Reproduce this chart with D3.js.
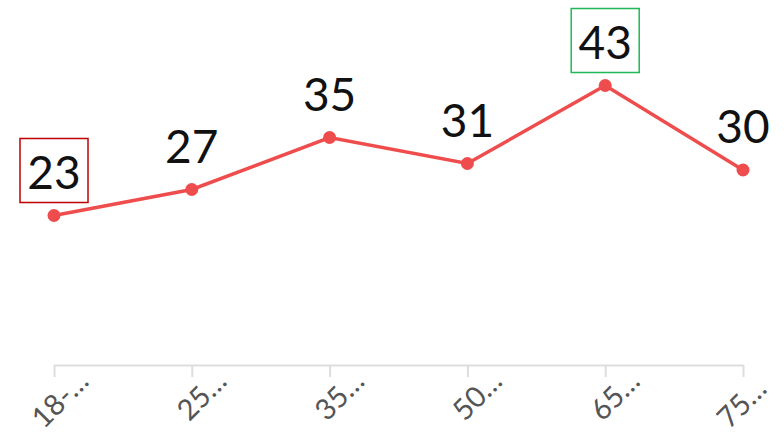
<!DOCTYPE html>
<html><head><meta charset="utf-8">
<script src="https://cdn.jsdelivr.net/npm/d3@7"></script>
<style>body{margin:0;background:#fff}svg{display:block}</style>
</head><body>
<svg id="c" width="784" height="433"></svg>
<script>
const categories = ["18-…", "25…", "35…", "50…", "65…", "75…"];
const values = [23, 27, 35, 31, 43, 30];
const minIndex = values.indexOf(d3.min(values));
const maxIndex = values.indexOf(d3.max(values));

const svg = d3.select("#c");
const font = "Lato, 'Open Sans', sans-serif";
const x = d3.scalePoint().domain(categories).range([54, 743]);
const y = d3.scaleLinear().domain([0, 50]).range([365, 40]);

const ax = svg.append("g").attr("transform", "translate(0,365)")
  .call(d3.axisBottom(x).tickSize(12).tickSizeOuter(0));
ax.select(".domain").attr("stroke", "#ddd").attr("stroke-width", 2);
ax.selectAll(".tick line").attr("stroke", "#ddd").attr("stroke-width", 2);
ax.selectAll(".tick text")
  .attr("font-family", font).attr("font-size", 29).attr("font-weight", 400).attr("fill", "#555")
  .attr("text-anchor", "end").attr("dy", 0).attr("y", 0)
  .attr("transform", d => {
    const shift = Math.max(0, x(d) + 36 - 768);
    return `translate(${36 - shift},${18 + shift * 0.7}) rotate(-45)`;
  });

const data = categories.map((c, i) => ({c, v: values[i], i}));
svg.append("path").datum(data)
  .attr("fill", "none").attr("stroke", "#ef4d4d").attr("stroke-width", 3.5)
  .attr("d", d3.line().x(d => x(d.c)).y(d => y(d.v)));
svg.selectAll("circle.p").data(data).join("circle")
  .attr("cx", d => x(d.c)).attr("cy", d => y(d.v)).attr("r", 6.5).attr("fill", "#ef4d4d");

const lab = svg.selectAll("g.lab").data(data).join("g")
  .attr("transform", d => `translate(${x(d.c)},${y(d.v)})`);
lab.filter(d => d.i === minIndex || d.i === maxIndex).append("rect")
  .attr("x", -34).attr("y", -77).attr("width", 68).attr("height", 64)
  .attr("fill", "none").attr("stroke-width", 1.5)
  .attr("stroke", d => d.i === maxIndex ? "#1db954" : "#c00000");
lab.append("text").attr("y", -27).attr("text-anchor", "middle")
  .attr("font-family", font).attr("font-size", 46).attr("fill", "#111")
  .text(d => d.v);
</script>
</body></html>
